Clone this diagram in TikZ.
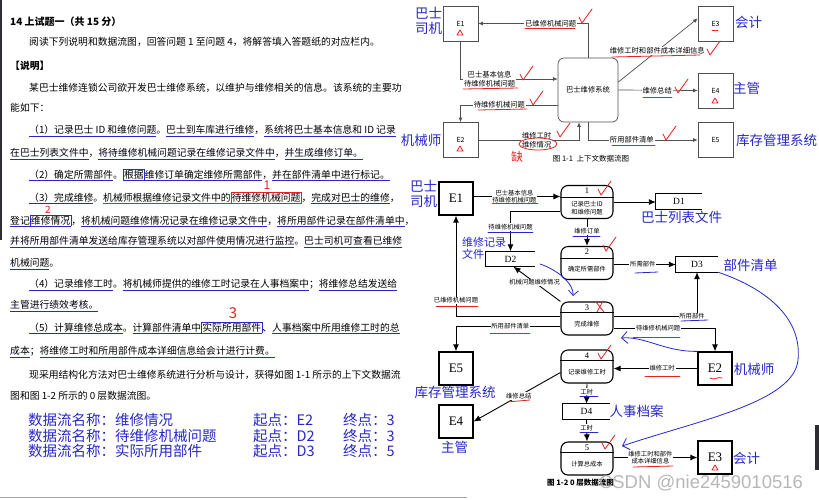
\documentclass[tikz,border=0pt]{standalone}
\usepackage{fontspec}
\setmainfont{Noto Sans CJK SC}
\newfontfamily\entfont{Liberation Serif}
\newfontfamily\wmfont{Liberation Sans}
\usetikzlibrary{arrows.meta, positioning, calc}
\definecolor{cHandBlue}{RGB}{40,40,200}
\definecolor{cHandRed}{RGB}{225,35,35}
\definecolor{cLine}{RGB}{80,80,80}
\definecolor{cEdge}{RGB}{45,45,50}
% hand marks in the exam text
\newlength\marklen
\newcommand\bul[1]{\settowidth\marklen{#1}\rlap{\textcolor{cHandBlue}{\rule[-2.6pt]{\marklen}{0.6pt}}}#1}
\newcommand\rul[1]{\settowidth\marklen{#1}\rlap{\textcolor{cHandRed}{\rule[-2.6pt]{\marklen}{0.6pt}}}#1}
\newcommand\rboxed[1]{{\fboxsep=0.6pt\fboxrule=0.6pt\textcolor{cHandRed}{\fbox{\textcolor{black}{#1}}}}}
\newcommand\bboxed[1]{{\fboxsep=0.6pt\fboxrule=0.6pt\textcolor{cHandBlue}{\fbox{\textcolor{black}{#1}}}}}
\tikzset{
  txtline/.style={anchor=west, inner sep=0pt, font=\fontsize{9.8}{11}\selectfont},
  titletxt/.style={txtline, font=\fontsize{10}{11}\selectfont\bfseries},
  bluetxt/.style={anchor=west, inner sep=0pt, text=cHandBlue,
                  font=\fontsize{14.5}{15}\selectfont},
  handtxt/.style={inner sep=0pt, text=cHandBlue, align=center,
                  font=\fontsize{13.5}{15}\selectfont},
  rednum/.style={inner sep=0pt, text=cHandRed, font=\fontsize{12}{13}\selectfont},
  ctxbox/.style={draw=cLine, line width=0.7pt, minimum width=35, minimum height=35,
                 inner sep=0pt, font=\fontsize{7}{8}\selectfont},
  ctxsys/.style={draw=cLine, line width=0.7pt, rounded corners=6pt, minimum width=60,
                 minimum height=64, inner sep=0pt, font=\fontsize{7.3}{8}\selectfont},
  ctxarrow/.style={-{Latex[length=4.5pt,width=4pt]}, draw=cLine, line width=0.7pt},
  ctxlbl/.style={fill=white, inner sep=0.8pt, align=center,
                 font=\fontsize{7.3}{8.6}\selectfont},
  entbox/.style={draw, line width=1.3pt, minimum width=34, minimum height=33,
                 inner sep=0pt, font=\entfont\fontsize{13}{14}\selectfont},
  procbox/.style={draw, line width=1.1pt, rounded corners=7pt, minimum width=52,
                  minimum height=33, inner sep=0pt},
  proctxt/.style={inner sep=0pt, align=center, font=\fontsize{6.3}{8}\selectfont},
  procnum/.style={inner sep=0pt, font=\entfont\fontsize{8.5}{9}\selectfont},
  procsep/.style={line width=0.8pt},
  dstore/.style={minimum height=15, inner sep=0pt, font=\entfont\fontsize{9.5}{10}\selectfont},
  storeline/.style={line width=0.9pt},
  arr/.style={-{Latex[length=7pt,width=6pt]}, line width=0.9pt},
  lbl/.style={fill=white, inner sep=0.8pt, align=center,
              font=\fontsize{6.3}{7.6}\selectfont},
  captxt/.style={inner sep=0pt, font=\fontsize{7.5}{8}\selectfont},
  wmtxt/.style={inner sep=0pt, text=gray!70, opacity=0.8,
                font=\wmfont\fontsize{18.5}{19}\selectfont},
  redmark/.style={draw=cHandRed, line width=0.8pt, line cap=round, line join=round},
  bluemark/.style={draw=cHandBlue, line width=0.8pt, line cap=round},
  tick/.pic={\draw[redmark] (-5,-1) -- (-2,5) -- (8,-9);},
  redtri/.pic={\draw[redmark] (-3,2) -- (0,-3) -- (3,2) -- cycle;}
}
\begin{document}
\begin{tikzpicture}[x=1pt, y=-1pt]
\useasboundingbox (0,0) rectangle (819,499);
\fill[white] (0,0) rectangle (819,499);
\fill[cEdge] (0,0) rectangle (1.5,240);
\fill[cEdge] (815,425) rectangle (819,470);
\draw[gray!70, line width=1.5pt] (0,497.5) -- (467,497.5);

% exam text
\node[titletxt] (title) at (10,22) {14 上试题一（共 15 分）};
\node[txtline] (t1) at (29,42) {阅读下列说明和数据流图，回答问题 1 至问题 4，将解答填入答题纸的对应栏内。};
\node[txtline, font=\fontsize{9.8}{11}\selectfont\bfseries] (t2) at (10,66) {【说明】};
\node[txtline] (t3) at (29,88) {某巴士维修连锁公司欲开发巴士维修系统，以维护与维修相关的信息。该系统的主要功};
\node[txtline] (t4) at (10,108) {能如下：};
\node[txtline] (t5) at (29,131) {\bul{（1）}\bul{记录巴士 ID 和维修问题}。\bul{巴士到车库进行维修}，\bul{系统将巴士基本信息和 ID 记录}};
\node[txtline] (t6) at (10,154) {\bul{在巴士列表文件中}，\bul{将待维修机械问题记录在维修记录文件中}，\bul{并生成维修订单。}};
\node[txtline] (t7) at (29,175) {\bul{（2）确定所需部件}。\bboxed{根据}\bul{维修订单确定维修所需部件}，\bul{并在部件清单中进行标记。}};
\node[txtline] (t8) at (29,198) {\bul{（3）完成维修}。\rul{机械师根据维修记录文件中的}\rboxed{待维修机械问题}，\bul{完成对巴士的维修}，};
\node[txtline] (t9) at (10,221) {\bul{登记}\bboxed{维修情况}，\bul{将机械问题维修情况记录在维修记录文件中}，\bul{将所用部件记录}\bul{在部件清单中}，};
\node[txtline] (t10) at (10,242) {\bul{并将所用部件清单发送给库存管理系统以对部件使用情况进行监控}。\bul{巴士司机可查看已维修}};
\node[txtline] (t11) at (10,264) {\bul{机械问题}。};
\node[txtline] (t12) at (29,285) {\bul{（4）记录维修工时}。\bul{将机械师提供的维修工时记录在人事档案中}；\bul{将维修总结发送给}};
\node[txtline] (t13) at (10,306) {\bul{主管进行绩效考核。}};
\node[txtline] (t14) at (29,328) {\bul{（5）计算维修总成本}。\bul{计算部件清单中}\bboxed{实际所用部件}、\bul{人事档案中所用维修工时的总}};
\node[txtline] (t15) at (10,352) {\bul{成本}；\bul{将维修工时和所用部件成本详细信息给会计进行计费。}};
\node[txtline] (t16) at (29,375) {现采用结构化方法对巴士维修系统进行分析与设计，获得如图 1-1 所示的上下文数据流};
\node[txtline] (t17) at (10,396) {图和图 1-2 所示的 0 层数据流图。};
\node[rednum] (n1) at (267,185) {1};
\node[rednum, font=\fontsize{10}{11}\selectfont] (n2) at (48,210) {2};
\node[rednum, font=\fontsize{15}{16}\selectfont] (n3) at (233,313) {3};

\node[bluetxt] (q1) at (28,420) {数据流名称：维修情况};
\node[bluetxt] (q1s) at (253,420) {起点：E2};
\node[bluetxt] (q1e) at (343,420) {终点：3};
\node[bluetxt] (q2) at (28,436) {数据流名称：待维修机械问题};
\node[bluetxt] (q2s) at (253,436) {起点：D2};
\node[bluetxt] (q2e) at (343,436) {终点：3};
\node[bluetxt] (q3) at (28,451) {数据流名称：实际所用部件};
\node[bluetxt] (q3s) at (253,451) {起点：D3};
\node[bluetxt] (q3e) at (343,451) {终点：5};

% context diagram (fig 1-1)
\node[ctxbox] (ce1) at (460.5,23.5) {E1};
\node[ctxbox] (ce3) at (715.5,23.5) {E3};
\node[ctxbox] (ce4) at (715.5,90.5) {E4};
\node[ctxbox] (ce2) at (460.5,140) {E2};
\node[ctxbox] (ce5) at (715.5,140) {E5};
\node[ctxsys] (csys) at (588,90) {巴士维修系统};

\draw[ctxarrow] (csys.north) |- (ce1.east) node[ctxlbl, pos=0.67] (cl1) {已维修机械问题};
\draw[ctxarrow] (ce1.south) |- ($(csys.west)+(0,-11)$) node[ctxlbl, pos=0.65] (cl2) {巴士基本信息\\待维修机械问题};
\draw[ctxarrow] ($(csys.west)+(0,15)$) -| (ce2.north) node[ctxlbl, pos=0.3] (cl3) {待维修机械问题};
\draw[ctxarrow] (ce2.east) -| ($(csys.south)+(-9,0)$) node[ctxlbl, pos=0.29] (cl4) {维修工时\\维修情况};
\draw[ctxarrow] (csys.south) |- (ce5.west) node[ctxlbl, pos=0.7] (cl5) {所用部件清单};
\draw[ctxarrow] (csys.east) -- (ce4.west) node[ctxlbl, pos=0.49] (cl6) {维修总结};
\draw[ctxarrow] ($(csys.east)+(0,-8)$) -- ($(ce3.west)+(0,-5)$) node[ctxlbl, pos=0.49] (cl7) {维修工时和部件成本详细信息};
\node[captxt] (cap1) at (591,159) {图 1-1\enspace 上下文数据流图};

\node[handtxt] (h1) at (428.5,21) {巴士\\司机};
\node[handtxt] (h2) at (748.5,22) {会计};
\node[handtxt] (h3) at (746.5,88) {主管};
\node[handtxt] (h4) at (421,140) {机械师};
\node[handtxt] (h5) at (776.5,140) {库存管理系统};
\node[rednum, font=\fontsize{12}{12}\selectfont] (n4) at (517,157) {缺};

% red marks on fig 1-1
\pic at (584,18) {tick};
\pic at (712,50) {tick};
\pic at (525,75) {tick};
\pic at (535,100) {tick};
\pic at (680,88) {tick};
\pic at (562,132) {tick};
\pic at (668,135) {tick};
\draw[redmark] (525,28) -- (575,28);
\draw[redmark] (463,89) -- (518,88);
\draw[redmark] (478,110) -- (527,109);
\draw[redmark] (612,57) -- (700,55);
\draw[redmark] (643,97) -- (672,97);
\draw[redmark] (612,145) -- (655,145);
\draw[redmark] (538,144) ellipse [x radius=19, y radius=6];
\pic at (460,33) {redtri};
\pic at (460,149) {redtri};
\pic at (715,101) {redtri};
\draw[redmark] (712,30) -- (718,30);

% level-0 diagram (fig 1-2)
\node[entbox] (e1) at (456,198.5) {E1};
\node[entbox] (e5) at (456,368.5) {E5};
\node[entbox] (e4) at (456,421.5) {E4};
\node[entbox] (e2) at (715,368.5) {E2};
\node[entbox] (e3) at (715,457.5) {E3};

\node[procbox] (p1) at (587,202) {};
\node[procnum] (p1n) at ($(p1.north)+(0,6)$) {1};
\node[proctxt] (p1t) at ($(p1.center)+(0,6)$) {记录巴士ID\\和维修问题};
\draw[procsep] ($(p1.north west)+(0,12)$) -- ($(p1.north east)+(0,12)$);
\node[procbox] (p2) at (587,263) {};
\node[procnum] (p2n) at ($(p2.north)+(0,6)$) {2};
\node[proctxt] (p2t) at ($(p2.center)+(0,6)$) {确定所需部件};
\draw[procsep] ($(p2.north west)+(0,12)$) -- ($(p2.north east)+(0,12)$);
\node[procbox] (p3) at (587,318.5) {};
\node[procnum] (p3n) at ($(p3.north)+(0,6)$) {3};
\node[proctxt] (p3t) at ($(p3.center)+(0,6)$) {完成维修};
\draw[procsep] ($(p3.north west)+(0,11)$) -- ($(p3.north east)+(0,11)$);
\node[procbox] (p4) at (587,366.5) {};
\node[procnum] (p4n) at ($(p4.north)+(0,6)$) {4};
\node[proctxt] (p4t) at ($(p4.center)+(0,6)$) {记录维修工时};
\draw[procsep] ($(p4.north west)+(0,11)$) -- ($(p4.north east)+(0,11)$);
\node[procbox] (p5) at (587,458.5) {};
\node[procnum] (p5n) at ($(p5.north)+(0,6)$) {5};
\node[proctxt] (p5t) at ($(p5.center)+(0,6)$) {计算总成本};
\draw[procsep] ($(p5.north west)+(0,11)$) -- ($(p5.north east)+(0,11)$);

\node[dstore, minimum width=46] (d1) at (679,201.5) {D1};
\draw[storeline] (d1.north east) -- (d1.north west) -- (d1.south west) -- (d1.south east);
\node[dstore, minimum width=49] (d2) at (510.5,259) {D2};
\draw[storeline] (d2.north east) -- (d2.north west) -- (d2.south west) -- (d2.south east);
\node[dstore, minimum width=42] (d3) at (697,264.5) {D3};
\draw[storeline] (d3.north east) -- (d3.north west) -- (d3.south west) -- (d3.south east);
\node[dstore, minimum width=47] (d4) at (586.5,411.5) {D4};
\draw[storeline] (d4.north east) -- (d4.north west) -- (d4.south west) -- (d4.south east);

\draw[arr] ([yshift=2pt]e1.east) -- ([yshift=2pt]e1.east -| p1.west) node[lbl, pos=0.47] (l1) {巴士基本信息\\待维修机械问题};
\draw[arr] (p1.east) -- (p1.east -| d1.west);
\draw[arr] ($(p1.west)+(0,9)$) -| (d2.north) node[lbl, pos=0.7] (l2) {待维修机械问题};
\draw[arr] (p1.south) -- (p2.north) node[lbl, pos=0.45] (l3) {维修订单};
\draw[arr] (p2.east |- d3.west) -- (d3.west) node[lbl, pos=0.47] (l4) {所需部件};
\draw[arr] (p3.north west) -- ($(d2.south)+(3,0)$) node[lbl, pos=0.55] (l5) {机械问题维修情况};
\draw[arr] ($(p3.west)+(0,-2)$) -| (e1.south) node[lbl, pos=0.58] (l6) {已维修机械问题};
\draw[arr] ($(p3.east)+(0,-2)$) -| (d3.south) node[lbl, pos=0.47] (l7) {所用部件};
\draw[arr] ($(p3.west)+(0,8)$) -| (e5.north) node[lbl, pos=0.24] (l8) {所用部件清单};
\draw[arr] ($(p3.east)+(0,10)$) -| (e2.north) node[lbl, pos=0.22] (l9) {待维修机械问题};
\draw[arr] (e2.west) -- (e2.west -| p4.east) node[lbl, pos=0.42] (l10) {维修工时};
\draw[arr] ($(p4.west)+(0,6)$) -- (e4.east) node[lbl, pos=0.48] (l11) {维修总结};
\draw[arr] (p4.south) -- (d4.north) node[lbl, pos=0.4] (l12) {工时};
\draw[arr] (d4.south) -- (p5.north) node[lbl, pos=0.4] (l13) {工时};
\draw[arr] (p5.east |- e3.west) -- (e3.west) node[lbl, pos=0.44] (l14) {维修工时和部件\\成本详细信息};
\node[captxt, anchor=west, font=\fontsize{7.5}{8}\selectfont\bfseries] (cap2) at (547,483) {图 1-2 0 层数据流图};

\node[handtxt] (h6) at (423.5,193.5) {巴士\\司机};
\node[handtxt] (h7) at (681.5,217) {巴士列表文件};
\node[handtxt, anchor=north west, align=left, font=\fontsize{11}{12.5}\selectfont] (h8) at (462,237) {维修记录\\文件};
\node[handtxt] (h9) at (750.5,265) {部件清单};
\node[handtxt] (h10) at (455,392) {库存管理系统};
\node[handtxt] (h11) at (454.5,447) {主管};
\node[handtxt] (h12) at (754,369) {机械师};
\node[handtxt] (h13) at (636.5,411) {人事档案};
\node[handtxt] (h14) at (746.5,458) {会计};

% red and blue marks on fig 1-2
\pic at (603,190) {tick};
\pic at (608,246) {tick};
\pic at (603,354) {tick};
\pic at (607,444) {tick};
\draw[redmark] (596,302) -- (604,312) (603,301) -- (597,312);
\draw[redmark] (492,203) -- (538,203);
\draw[redmark] (436,306) -- (478,306);
\draw[redmark] (490,333) -- (530,333);
\draw[redmark] (633,337) -- (680,337);
\draw[redmark] (507,402) -- (530,400);
\draw[redmark] (645,376) -- (680,376);
\draw[redmark] (633,467) -- (673,466);
\draw[redmark] (710,378) .. controls (714,381) and (718,376) .. (722,378);
\pic at (715,468) {redtri};
\draw[bluemark] (488,232) -- (533,232);
\draw[bluemark] (573,236) -- (600,236);
\draw[bluemark] (635,273) -- (658,272);
\draw[bluemark] (681,321) -- (708,320);
\draw[bluemark] (580,396) -- (598,396);
\draw[bluemark] (580,432) -- (598,432);
\draw[bluemark, -{Straight Barb[length=5pt]}] (540,264) .. controls (558,270) and (574,284) .. (573,296);
\draw[bluemark, -{Straight Barb[length=6pt]}] (d3.south east) .. controls (770,290) and (802,320) .. (798,360) .. controls (794,402) and (700,420) .. (622,446);
\draw[bluemark, -{Straight Barb[length=6pt]}] (e2.north west) .. controls (665,352) and (645,336) .. (621,338);

\node[wmtxt] (wm) at (701,483) {CSDN @nie2459010516};
\end{tikzpicture}
\end{document}
